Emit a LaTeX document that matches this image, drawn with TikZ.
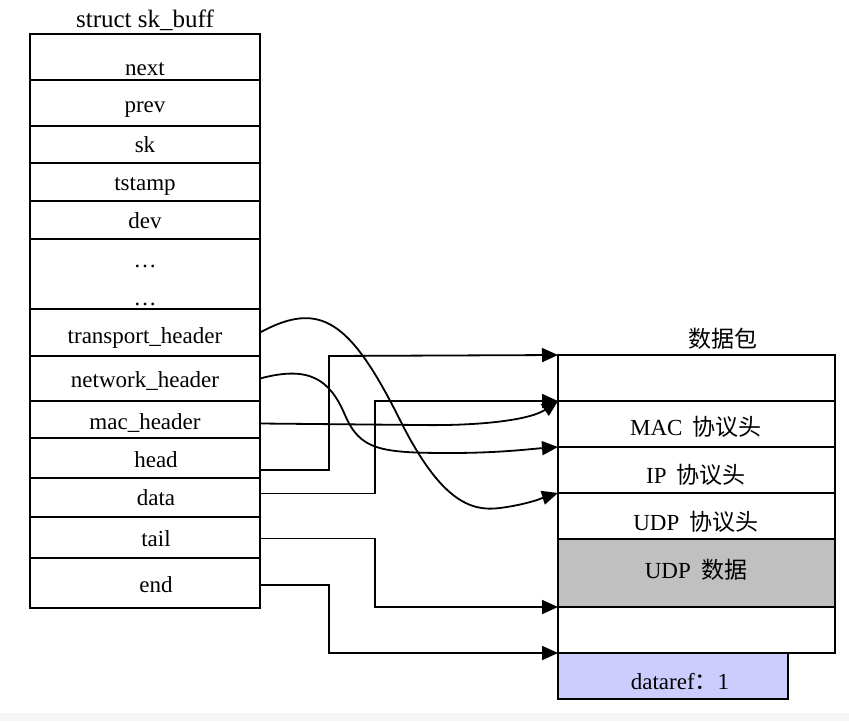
\documentclass[tikz,border=0pt]{standalone}
\usepackage{fontspec}
\setmainfont{Liberation Serif}
\newfontfamily\cjk{Noto Sans CJK SC}
\usetikzlibrary{arrows.meta}
\definecolor{grayfill}{HTML}{C0C0C0}
\definecolor{lavender}{HTML}{CCCCFF}
\definecolor{stripgray}{HTML}{F6F6F6}
\begin{document}
\begin{tikzpicture}[x=1pt,y=-1pt,
  fld/.style={draw, line width=1.8pt, minimum width=230pt, inner sep=0pt, outer sep=0pt},
  pkt/.style={draw, line width=1.8pt, minimum width=277pt, inner sep=0pt, outer sep=0pt},
  txt/.style={font=\fontsize{23}{26}\selectfont, inner sep=0pt, anchor=base},
  conn/.style={line width=1.8pt, -{Triangle[length=16pt,width=14pt]}}]
\useasboundingbox (0,0) rectangle (849,721);
\fill[stripgray] (0,713) rectangle (849,721);
% struct sk_buff
\node[txt, font=\fontsize{25}{28}\selectfont] (title) at (145,27) {struct sk\_buff};
\node[fld, minimum height=46pt] (next) at (145,57) {};
\node[fld, minimum height=46pt] (prev) at (145,103) {};
\node[fld, minimum height=37pt] (sk) at (145,144.5) {};
\node[fld, minimum height=38pt] (tstamp) at (145,182) {};
\node[fld, minimum height=38pt] (dev) at (145,220) {};
\node[fld, minimum height=70pt] (dots) at (145,274) {};
\node[fld, minimum height=47pt] (trans) at (145,332.5) {};
\node[fld, minimum height=45pt] (net) at (145,378.5) {};
\node[fld, minimum height=37pt] (mac) at (145,419.5) {};
\node[fld, minimum height=40pt] (head) at (145,458) {};
\node[fld, minimum height=39pt] (data) at (145,497.5) {};
\node[fld, minimum height=41pt] (tail) at (145,537.5) {};
\node[fld, minimum height=50pt] (end) at (145,583) {};
\node[txt] at (145,75) {next};
\node[txt] at (145,112) {prev};
\node[txt] at (145,152) {sk};
\node[txt] at (145,190) {tstamp};
\node[txt] at (145,228) {dev};
\node[txt] at (145,267) {…};
\node[txt] at (145,305) {…};
\node[txt] at (145,343) {transport\_header};
\node[txt] at (145,387) {network\_header};
\node[txt] at (145,429) {mac\_header};
\node[txt] at (156,467) {head};
\node[txt] at (156,505) {data};
\node[txt] at (156,546) {tail};
\node[txt] at (156,592) {end};
% packet
\node[txt] (ptitle) at (723,347) {\cjk 数据包};
\node[pkt, minimum height=46pt] (p0) at (696.5,378) {};
\node[pkt, minimum height=46pt] (pmac) at (696.5,424) {};
\node[pkt, minimum height=46pt] (pip) at (696.5,470) {};
\node[pkt, minimum height=46pt] (pudp) at (696.5,516) {};
\node[pkt, minimum height=68pt, fill=grayfill] (pdata) at (696.5,573) {};
\node[pkt, minimum height=46pt] (ptail) at (696.5,630) {};
\node[draw, line width=1.8pt, fill=lavender, minimum width=230pt, minimum height=46pt, inner sep=0pt, outer sep=0pt] (dref) at (673,676) {};
\node[txt] at (696,435) {MAC\hspace{0.45em}{\cjk 协议头}};
\node[txt] at (696,483) {IP\hspace{0.45em}{\cjk 协议头}};
\node[txt] at (696,530) {UDP\hspace{0.45em}{\cjk 协议头}};
\node[txt] at (696,578) {UDP\hspace{0.45em}{\cjk 数据}};
\node[txt] at (680,689) {dataref{\cjk ：}1};
% connection points on the packet
\coordinate (a0) at (p0.north west);
\coordinate (a1) at (pmac.north west);
\coordinate (a2) at (pip.north west);
\coordinate (a3) at (pudp.north west);
\coordinate (a4) at (ptail.north west);
\coordinate (a5) at (dref.north west);
% connectors
\draw[conn] ([yshift=-12pt]head.east) -| (329,356) -- (a0);
\draw[conn] ([yshift=4pt]data.east) -| (375,401) -- (a1);
\draw[conn] ([yshift=-4pt]mac.east) -- (420,425) .. controls (480,426) and (530,420) .. (a1);
\draw[conn] (net.east) .. controls (310,365) and (330,380) .. (345,415)
  .. controls (360,450) and (380,453) .. (450,453)
  .. controls (500,453) and (530,449) .. (a2);
\draw[conn] (trans.east) .. controls (320,300) and (350,320) .. (400,420)
  .. controls (440,500) and (470,512) .. (500,508)
  .. controls (530,504) and (545,497) .. (a3);
\draw[conn] ([yshift=-1pt]tail.east) -| (375,607) -- (a4);
\draw[conn] ([yshift=-2pt]end.east) -| (329,653) -- (a5);
\end{tikzpicture}
\end{document}
